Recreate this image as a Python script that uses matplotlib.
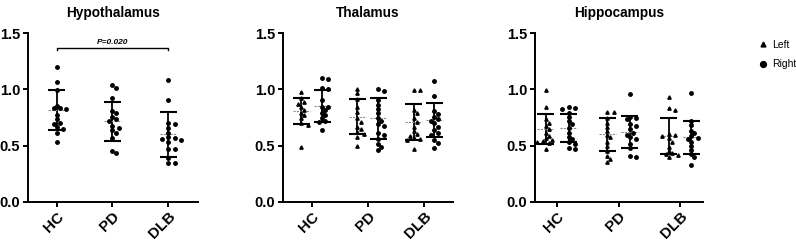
import numpy as np
import matplotlib
matplotlib.use("Agg")
import matplotlib.pyplot as plt
from matplotlib.lines import Line2D

plt.rcParams["font.family"] = ["Liberation Sans", "DejaVu Sans"]

groups = ["HC", "PD", "DLB"]

# Hypothalamus (single series)
hyp_hc = [1.197, 1.063, 0.995, 0.855, 0.834, 0.834, 0.823, 0.772, 0.736, 0.703, 0.692, 0.662, 0.647, 0.614, 0.534]
hyp_pd = [1.042, 1.015, 0.921, 0.808, 0.787, 0.757, 0.734, 0.719, 0.674, 0.659, 0.638, 0.614, 0.570, 0.454, 0.431]
hyp_dlb = [1.084, 0.903, 0.703, 0.692, 0.653, 0.609, 0.567, 0.556, 0.549, 0.573, 0.534, 0.472, 0.466, 0.386, 0.347, 0.342]
hyp_mean = [0.817, 0.715, 0.600]
hyp_sd = [0.181, 0.175, 0.199]

# Thalamus
thal_left_hc = [0.980, 0.921, 0.890, 0.870, 0.846, 0.817, 0.793, 0.772, 0.743, 0.698, 0.683, 0.490]
thal_left_pd = [1.001, 0.965, 0.912, 0.846, 0.801, 0.743, 0.712, 0.668, 0.645, 0.618, 0.600, 0.579, 0.496]
thal_left_dlb = [0.995, 0.995, 0.817, 0.787, 0.743, 0.712, 0.668, 0.632, 0.603, 0.585, 0.564, 0.556, 0.549, 0.466]
thal_right_hc = [1.099, 1.090, 1.010, 1.001, 0.906, 0.846, 0.841, 0.817, 0.793, 0.772, 0.743, 0.721, 0.712, 0.638]
thal_right_pd = [1.001, 0.988, 0.906, 0.861, 0.823, 0.787, 0.743, 0.721, 0.692, 0.674, 0.614, 0.594, 0.556, 0.514, 0.490, 0.460]
thal_right_dlb = [1.078, 0.944, 0.811, 0.778, 0.757, 0.736, 0.721, 0.698, 0.668, 0.638, 0.614, 0.594, 0.549, 0.525, 0.475]
thal_left_mean = [0.806, 0.757, 0.708]
thal_left_sd = [0.115, 0.155, 0.159]
thal_right_mean = [0.853, 0.745, 0.725]
thal_right_sd = [0.142, 0.183, 0.152]

# Hippocampus
hip_left_hc = [0.995, 0.846, 0.733, 0.703, 0.674, 0.645, 0.614, 0.588, 0.564, 0.549, 0.540, 0.532, 0.520, 0.466]
hip_left_pd = [0.801, 0.801, 0.743, 0.703, 0.668, 0.632, 0.594, 0.573, 0.534, 0.496, 0.454, 0.407, 0.383, 0.356]
hip_left_dlb = [0.930, 0.837, 0.817, 0.600, 0.594, 0.585, 0.564, 0.534, 0.490, 0.454, 0.431, 0.425, 0.416, 0.401]
hip_right_hc = [0.846, 0.834, 0.828, 0.793, 0.757, 0.721, 0.692, 0.653, 0.614, 0.579, 0.556, 0.534, 0.514, 0.475, 0.469]
hip_right_pd = [0.956, 0.757, 0.743, 0.733, 0.692, 0.674, 0.645, 0.614, 0.594, 0.573, 0.556, 0.514, 0.475, 0.407, 0.401]
hip_right_dlb = [0.965, 0.721, 0.683, 0.632, 0.609, 0.585, 0.567, 0.556, 0.534, 0.496, 0.460, 0.425, 0.401, 0.327]
hip_left_mean = [0.645, 0.602, 0.583]
hip_left_sd = [0.134, 0.146, 0.159]
hip_right_mean = [0.655, 0.620, 0.572]
hip_right_sd = [0.122, 0.146, 0.150]

p_label = "P=0.020"

DPI = 100
fig = plt.figure(figsize=(7.96, 2.41), dpi=DPI)
W, H = 796, 241
PX_PER_Y = 112.3  # pixels per y unit (0..1.5 over ~168px)


def swarm(values, px_per_x, d=3.9):
    # simple beeswarm: spread points sideways so they don't overlap
    order = np.argsort(values)[::-1]
    placed = []
    xs = np.zeros(len(values))
    for i in order:
        y = values[i] * PX_PER_Y
        for k in range(0, 20):
            cands = [0.0] if k == 0 else [k * d * 0.8, -k * d * 0.8]
            ok = None
            for c in cands:
                if all((c - px) ** 2 + (y - py) ** 2 >= d ** 2 for px, py in placed):
                    ok = c
                    break
            if ok is not None:
                break
        placed.append((ok, y))
        xs[i] = ok / px_per_x
    return xs


def draw_group(ax, x, vals, mean, sd, marker, ms, px_per_x):
    vals = np.asarray(vals)
    off = swarm(vals, px_per_x)
    ax.plot(x + off, vals, linestyle="none", marker=marker, ms=ms, color="black", zorder=3)
    half = 8.5 / px_per_x
    ax.plot([x, x], [mean - sd, mean + sd], color="black", lw=1.3, zorder=2)
    ax.plot([x - half, x + half], [mean + sd] * 2, color="black", lw=1.5, solid_capstyle="butt", zorder=2)
    ax.plot([x - half, x + half], [mean - sd] * 2, color="black", lw=1.5, solid_capstyle="butt", zorder=2)
    ax.plot([x - half, x + half], [mean] * 2, color="#8c8c8c", lw=0.8, linestyle=(0, (2, 1)), zorder=2)


def style(ax, title, xlim):
    ax.set_xlim(*xlim)
    ax.set_ylim(0, 1.5)
    ax.set_yticks([0, 0.5, 1.0, 1.5])
    ax.set_yticklabels(["0.0", "0.5", "1.0", "1.5"], fontweight="bold", fontsize=10.5)
    ax.set_xticks(range(len(groups)))
    ax.set_xticklabels(groups, fontweight="bold", fontsize=11, rotation=45,
                       ha="right", va="top", rotation_mode="anchor")
    for s in ["top", "right"]:
        ax.spines[s].set_visible(False)
    for s in ["left", "bottom"]:
        ax.spines[s].set_linewidth(1.4)
    ax.tick_params(width=1.4, length=3.5, pad=2)
    ax.set_title(title, fontweight="bold", fontsize=9.8, pad=12)


bottom = (H - 201.7) / H
height = (201.7 - 33.3) / H

# Panel 1
ax1 = fig.add_axes([28 / W, bottom, 169.7 / W, height])
px1 = 55.8
for i, (vals, m, s) in enumerate(zip([hyp_hc, hyp_pd, hyp_dlb], hyp_mean, hyp_sd)):
    draw_group(ax1, i, vals, m, s, "o", 2.5, px1)
style(ax1, "Hypothalamus", (-0.514, 2.527))
ax1.plot([0, 0, 2, 2], [1.347, 1.366, 1.366, 1.347], color="black", lw=1.0)
ax1.text(1, 1.383, p_label, ha="center", va="bottom", fontsize=6,
         fontweight="bold", fontstyle="italic")

# Panel 2
ax2 = fig.add_axes([282.7 / W, bottom, 170 / W, height])
px2 = 56.15
off = 0.185
for i in range(3):
    draw_group(ax2, i - off, [thal_left_hc, thal_left_pd, thal_left_dlb][i],
               thal_left_mean[i], thal_left_sd[i], "^", 2.4, px2)
    draw_group(ax2, i + off, [thal_right_hc, thal_right_pd, thal_right_dlb][i],
               thal_right_mean[i], thal_right_sd[i], "o", 2.5, px2)
style(ax2, "Thalamus", (-0.516, 2.511))

# Panel 3
ax3 = fig.add_axes([535 / W, bottom, 168 / W, height])
px3 = 61.35
for i in range(3):
    draw_group(ax3, i - off, [hip_left_hc, hip_left_pd, hip_left_dlb][i],
               hip_left_mean[i], hip_left_sd[i], "^", 2.4, px3)
    draw_group(ax3, i + off, [hip_right_hc, hip_right_pd, hip_right_dlb][i],
               hip_right_mean[i], hip_right_sd[i], "o", 2.5, px3)
style(ax3, "Hippocampus", (-0.363, 2.375))

handles = [
    Line2D([], [], linestyle="none", marker="^", ms=3.5, color="black"),
    Line2D([], [], linestyle="none", marker="o", ms=4.2, color="black"),
]
fig.legend(handles, ["Left", "Right"], loc="upper left", bbox_to_anchor=(759 / W, 1 - 40 / H),
           frameon=False, fontsize=7.5, handlelength=0.8, handletextpad=0.5, labelspacing=0.9,
           borderpad=0, borderaxespad=0)

fig.savefig("out.png", dpi=DPI)
